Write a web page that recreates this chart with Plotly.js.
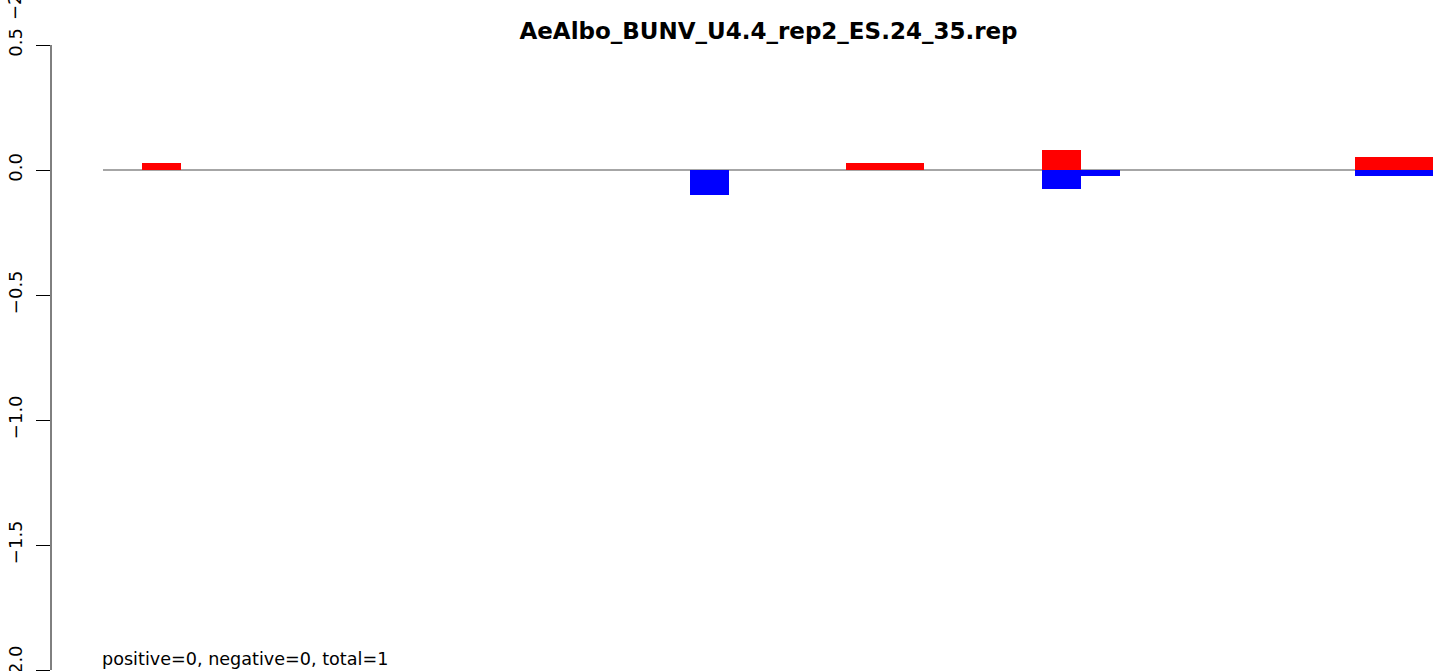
<!DOCTYPE html>
<html>
<head>
<meta charset="utf-8">
<script src="https://cdn.plot.ly/plotly-3.0.1.min.js"></script>
<style>html,body{margin:0;padding:0;background:#fff;}#chart{width:1444px;height:671px;}</style>
</head>
<body>
<div id="chart"></div>
<script>
// Data (slot start position and value)
const titleText = "AeAlbo_BUNV_U4.4_rep2_ES.24_35.rep";
const footText = "positive=0, negative=0, total=1";
const redPos = [1, 19, 20, 24, 32, 33];
const redVals = [0.027, 0.027, 0.027, 0.08, 0.052, 0.052];
const bluePos = [15, 24, 25, 32, 33];
const blueVals = [-0.1, -0.076, -0.025, -0.025, -0.025];
const yTicks = [-2.0, -1.5, -1.0, -0.5, 0.0, 0.5];
const xStart = 0, xEnd = 34;

const FONT = "DejaVu Sans, Liberation Sans, Arial, sans-serif";

const traces = [
  {type: 'bar', x: redPos, y: redVals, width: 1, offset: 0,
   marker: {color: '#FF0000', line: {width: 0}}, hoverinfo: 'x+y'},
  {type: 'bar', x: bluePos, y: blueVals, width: 1, offset: 0,
   marker: {color: '#0000FF', line: {width: 0}}, hoverinfo: 'x+y'}
];

const layout = {
  width: 1444, height: 671,
  margin: {l: 51, r: 0, t: 45, b: 0, pad: 0},
  paper_bgcolor: '#ffffff', plot_bgcolor: '#ffffff',
  showlegend: false,
  barmode: 'overlay',
  bargap: 0,
  font: {family: FONT, color: '#000000', size: 18},
  title: {text: '<b>' + titleText + '</b>', font: {family: FONT, size: 23, color: '#000'},
          x: (768.5 - 51) / 1393, xref: 'paper', xanchor: 'center',
          y: 1 - 31 / 671, yref: 'container', yanchor: 'middle'},
  xaxis: {range: [(51 - 103) / 39.118, (1444 - 103) / 39.118], visible: false,
          showgrid: false, zeroline: false, fixedrange: true},
  yaxis: {range: [-2.004, 0.5], tickvals: yTicks, tickformat: '.1f',
          ticks: 'outside', ticklen: 14, tickwidth: 1, tickcolor: '#000',
          showline: false, ticklabeloverflow: 'allow',
          showgrid: false, zeroline: false, tickangle: -90, ticklabelstandoff: 7,
          tickfont: {family: FONT, size: 18, color: '#000'}, fixedrange: true},
  shapes: [
    {type: 'line', xref: 'x', yref: 'y', x0: xStart, x1: xEnd, y0: 0, y1: 0,
     line: {color: '#888888', width: 1.3}, layer: 'below'},
    {type: 'line', xref: 'paper', yref: 'y', x0: 0, x1: 0, y0: -2.0, y1: 0.5,
     line: {color: '#000000', width: 1}}
  ],
  annotations: [
    {text: footText, xref: 'x', x: xStart - 0.07, xanchor: 'left',
     yref: 'paper', y: (671 - 659) / 626, yanchor: 'middle', showarrow: false,
     font: {family: FONT, size: 17.6, color: '#000'}},
    {text: '\u22122.0', xref: 'paper', x: (14 - 51) / 1393, xanchor: 'center',
     yref: 'paper', y: (671 + 2) / 626, yanchor: 'middle', textangle: -90, showarrow: false,
     font: {family: FONT, size: 18, color: '#000'}}
  ]
};

Plotly.newPlot('chart', traces, layout, {displayModeBar: false, staticPlot: true});
</script>
</body>
</html>
